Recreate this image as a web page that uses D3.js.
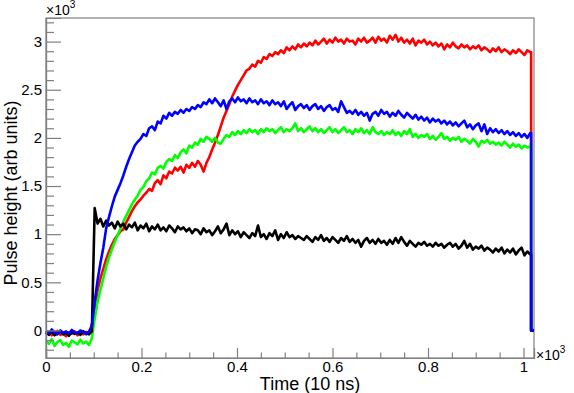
<!DOCTYPE html>
<html><head><meta charset="utf-8">
<script src="https://cdn.jsdelivr.net/npm/d3@7"></script>
<style>
body{margin:0;background:#fff;}
svg{display:block;}
text{font-family:"Liberation Sans",Arial,Helvetica,sans-serif;fill:#000;}
</style>
</head><body>
<svg id="chart" width="574" height="393"></svg>
<script>
// ---- data (bins 0,6,12,...,1014; raw counts) ----
const binWidth = 6;
const lastBin = 1016;   // histograms drop to zero after this bin
const xMax = 1022;
const yMin = -286, yMax = 3245;

const xTickValues = [0, 200, 400, 600, 800, 1000];
const xTickLabels = ["0", "0.2", "0.4", "0.6", "0.8", "1"];
const yTickValues = [0, 500, 1000, 1500, 2000, 2500, 3000];
const yTickLabels = ["0", "0.5", "1", "1.5", "2", "2.5", "3"];

const xTitle = "Time (10 ns)";
const yTitle = "Pulse height (arb units)";

const redValues = [
  -40,-15,-50,-25,-5,-45,-30,-60,-20,-35,
  -10,-50,-25,-40,-15,-30,60,220,420,540,
  640,740,820,890,950,990,1030,1050,1120,1180,
  1240,1290,1330,1360,1400,1430,1470,1450,1530,1560,
  1520,1610,1580,1650,1630,1690,1660,1700,1640,1720,
  1690,1740,1700,1760,1720,1650,1740,1800,1880,1950,
  2030,2120,2210,2280,2350,2430,2490,2550,2600,2650,
  2700,2720,2760,2740,2800,2780,2840,2820,2870,2850,
  2890,2870,2910,2880,2940,2910,2950,2920,2970,2940,
  2980,2950,2990,2960,3010,2970,3000,3030,2980,3020,
  2990,3040,3000,3020,2980,3030,3000,3010,2970,3030,
  3000,3040,2990,3010,3040,2990,3050,3010,3030,2990,
  3060,3020,3070,3000,3040,2990,3020,2980,3030,2960,
  3010,2990,3020,2970,3000,2960,2990,2950,2980,2920,
  2970,2940,2990,2950,2930,2970,2940,2960,2920,2950,
  2930,2960,2910,2940,2920,2890,2930,2900,2940,2890,
  2920,2900,2870,2910,2880,2920,2890,2860,2910,2890
];
const greenValues = [
  -110,-140,-90,-160,-120,-100,-150,-130,-170,-105,
  -125,-145,-95,-135,-115,-150,-80,120,300,420,
  540,660,760,840,920,990,1060,1130,1190,1250,
  1310,1360,1400,1460,1490,1550,1580,1640,1620,1690,
  1710,1680,1750,1780,1760,1820,1790,1850,1880,1840,
  1920,1900,1950,1930,1990,1960,2010,1990,1960,2000,
  1950,1940,1990,2030,2010,2060,2030,2070,2040,2080,
  2050,2090,2060,2080,2040,2090,2060,2100,2070,2090,
  2050,2080,2110,2060,2090,2070,2100,2150,2070,2100,
  2060,2090,2120,2070,2100,2060,2090,2050,2080,2110,
  2060,2090,2050,2080,2110,2060,2080,2040,2090,2060,
  2100,2050,2080,2040,2110,2060,2040,2070,2030,2060,
  2040,2080,2030,2060,2020,2070,2040,2090,2010,2040,
  2000,2030,2010,2040,1990,2020,1980,2010,2050,1990,
  2010,1970,2000,1980,2010,1960,1990,1970,1940,1990,
  1960,1910,1970,1950,1980,1940,1960,1930,1950,1920,
  1960,1930,1900,1940,1910,1930,1890,1920,1900,1910
];
const blackValues = [
  -20,-45,-10,-50,-30,-5,-40,-25,-55,-15,
  -35,-20,-45,-10,-30,-40,-10,1270,1110,1160,
  1080,1140,1090,1120,1060,1130,1080,1110,1050,1100,
  1070,1120,1040,1090,1060,1110,1030,1080,1050,1100,
  1040,1070,1030,1090,1060,1020,1080,1050,1070,1030,
  1060,1010,1050,1040,1000,1060,1020,1040,990,1030,
  1080,1010,1050,1110,990,1040,1000,1030,970,1020,
  990,960,1010,980,1090,970,1000,950,1010,980,
  1040,940,1000,960,1020,970,990,950,980,960,
  940,980,950,920,970,940,990,930,960,920,
  970,940,910,960,930,980,920,950,910,940,
  870,930,960,910,940,900,950,910,930,890,
  940,900,960,910,970,920,880,930,900,870,
  910,890,920,880,900,870,910,880,900,860,
  890,910,870,900,850,880,930,860,900,840,
  870,850,880,830,860,840,810,850,820,860,
  800,840,810,850,790,830,860,780,820,790
];
const blueValues = [
  -5,-30,10,-20,-40,0,-25,-10,-35,5,
  -20,-30,0,-15,-40,-10,40,300,520,700,
  860,1060,1180,1290,1390,1460,1530,1610,1700,1780,
  1850,1920,1960,1990,2040,2020,2100,2120,2080,2170,
  2150,2230,2200,2260,2230,2270,2250,2290,2260,2300,
  2280,2320,2300,2340,2320,2370,2350,2400,2360,2410,
  2370,2330,2390,2300,2380,2410,2370,2420,2380,2400,
  2360,2410,2370,2390,2350,2400,2360,2380,2340,2390,
  2350,2370,2330,2380,2300,2340,2370,2290,2330,2350,
  2310,2340,2290,2330,2350,2300,2330,2280,2320,2340,
  2290,2310,2270,2380,2320,2260,2280,2250,2290,2240,
  2270,2230,2260,2180,2250,2270,2230,2290,2250,2270,
  2220,2260,2230,2280,2240,2210,2260,2230,2200,2240,
  2190,2220,2180,2210,2160,2200,2170,2190,2150,2180,
  2140,2170,2130,2160,2120,2150,2180,2110,2140,2090,
  2130,2150,2070,2140,2040,2100,2060,2090,2050,2080,
  2040,2070,2030,2060,2020,2050,2010,2040,2000,2050
];

const seriesList = [
  {name: "red",   values: redValues,   color: "#ff0000"},
  {name: "green", values: greenValues, color: "#00ff00"},
  {name: "black", values: blackValues, color: "#000000"},
  {name: "blue",  values: blueValues,  color: "#0000ff"}
];

// ---- layout ----
const svg = d3.select("#chart");
const frameLeft = 46, frameRight = 534, frameTop = 18, frameBottom = 358;
const axisColor = "#808080";

const x = d3.scaleLinear().domain([0, xMax]).range([frameLeft, frameRight]);
const y = d3.scaleLinear().domain([yMin, yMax]).range([frameBottom, frameTop]);

// frame
svg.append("rect")
  .attr("x", frameLeft).attr("y", frameTop)
  .attr("width", frameRight - frameLeft).attr("height", frameBottom - frameTop)
  .attr("fill", "none").attr("stroke", axisColor).attr("stroke-width", 1.2);

// series
const line = d3.line()
  .x(d => x(d.bin))
  .y(d => y(d.v));

seriesList.forEach(s => {
  const pts = s.values.map((v, i) => ({bin: i * binWidth, v: v}));
  pts.push({bin: lastBin, v: s.values[s.values.length - 1]});
  pts.push({bin: lastBin, v: 0});
  pts.push({bin: xMax, v: 0});
  svg.append("path")
    .datum(pts)
    .attr("d", line)
    .attr("fill", "none")
    .attr("stroke", s.color)
    .attr("stroke-width", 2.6)
    .attr("stroke-linejoin", "round");
});

// minor ticks
const xMinor = d3.range(50, 1001, 50).filter(v => v % 200 !== 0);
const yMinor = d3.range(-200, 3201, 100).filter(v => v % 500 !== 0);

const gxMinor = svg.append("g").attr("transform", `translate(0,${frameBottom})`)
  .call(d3.axisBottom(x).tickValues(xMinor).tickSize(-5.5).tickFormat(""));
const gyMinor = svg.append("g").attr("transform", `translate(${frameLeft},0)`)
  .call(d3.axisLeft(y).tickValues(yMinor).tickSize(-8).tickFormat(""));

// major axes
const gx = svg.append("g").attr("transform", `translate(0,${frameBottom})`)
  .call(d3.axisBottom(x).tickValues(xTickValues).tickSize(-10).tickPadding(3.5)
    .tickFormat((d, i) => xTickLabels[i]));
const gy = svg.append("g").attr("transform", `translate(${frameLeft},0)`)
  .call(d3.axisLeft(y).tickValues(yTickValues).tickSize(-15).tickPadding(4)
    .tickFormat((d, i) => yTickLabels[i]));

[gxMinor, gyMinor, gx, gy].forEach(g => {
  g.select(".domain").attr("stroke", axisColor).attr("stroke-width", 1.2);
  g.selectAll(".tick line").attr("stroke", axisColor).attr("stroke-width", 1.2);
  g.selectAll(".tick text").attr("font-size", 15).attr("fill", "#000")
    .attr("font-family", "Liberation Sans, Arial, sans-serif");
});

// exponent labels
function expLabel(xp, yp) {
  const t = svg.append("text").attr("x", xp).attr("y", yp).attr("font-size", 14);
  t.append("tspan").text("\u00d710");
  t.append("tspan").attr("font-size", 10).attr("dy", -7).text("3");
}
expLabel(46, 15);
expLabel(536, 360);

// titles
svg.append("text")
  .attr("x", 310).attr("y", 390)
  .attr("text-anchor", "middle")
  .attr("font-size", 18)
  .text(xTitle);

svg.append("text")
  .attr("transform", "translate(17,193) rotate(-90)")
  .attr("text-anchor", "middle")
  .attr("font-size", 18)
  .text(yTitle);
</script>
</body></html>
